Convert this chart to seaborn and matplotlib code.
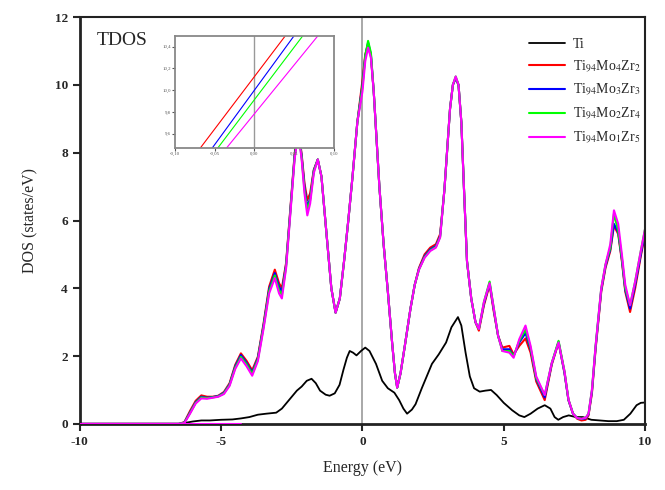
import numpy as np
import pandas as pd
import matplotlib
matplotlib.use('Agg')
import matplotlib.pyplot as plt
import seaborn as sns

# エネルギー軸 (合金TDOS)
energy = [-10.0, -6.5, -6.3, -6.1, -5.9, -5.7, -5.5, -5.3, -5.1, -4.9, -4.7, -4.5, -4.3,
          -4.1, -3.9, -3.7, -3.5, -3.3, -3.1, -2.95, -2.85, -2.7, -2.55, -2.4, -2.27,
          -2.15, -2.05, -1.95, -1.85, -1.72, -1.58, -1.45, -1.27, -1.1, -0.95, -0.8,
          -0.65, -0.5, -0.35, -0.18, 0.0, 0.1, 0.2, 0.3, 0.4, 0.5, 0.6, 0.75, 0.9, 1.05,
          1.15, 1.23, 1.35, 1.5, 1.7, 1.85, 2.0, 2.2, 2.4, 2.6, 2.75, 2.9, 3.0, 3.1, 3.2,
          3.3, 3.4, 3.5, 3.6, 3.7, 3.85, 4.0, 4.12, 4.3, 4.5, 4.65, 4.8, 4.95, 5.2, 5.35,
          5.55, 5.77, 5.95, 6.15, 6.45, 6.7, 6.94, 7.15, 7.29, 7.45, 7.6, 7.75, 7.9, 8.0,
          8.12, 8.25, 8.45, 8.6, 8.77, 8.9, 9.05, 9.18, 9.3, 9.47, 9.65, 9.85, 10.0]

dos_mo4zr2 = [0, 0, 0.05, 0.38, 0.68, 0.84, 0.8, 0.8, 0.83, 0.94, 1.2, 1.74, 2.08,
              1.86, 1.58, 1.98, 2.95, 4.05, 4.55, 4.15, 4.0, 4.75, 6.35, 7.95, 8.75,
              7.95, 7.1, 6.6, 6.8, 7.5, 7.8, 7.3, 5.6, 4.0, 3.28, 3.7,
              4.8, 6.0, 7.3, 8.9, 10.13, 10.9, 11.2, 10.85, 9.8, 8.4, 7.0, 5.3, 3.9, 2.4,
              1.5, 1.07, 1.5, 2.3, 3.4, 4.1, 4.6, 5.0, 5.2, 5.3, 5.6, 6.9, 8.1, 9.3, 10.0,
              10.2, 10.0, 8.9, 6.8, 4.8, 3.7, 3.0, 2.75, 3.5, 4.1, 3.3, 2.6, 2.25, 2.3, 2.05,
              2.3, 2.52, 2.1, 1.25, 0.7, 1.75, 2.4, 1.5, 0.7, 0.3, 0.15, 0.1, 0.12, 0.25,
              0.9, 2.2, 3.9, 4.6, 5.1, 5.85, 5.6, 4.8, 3.9, 3.3, 4.0, 4.95, 5.6]
dos_mo3zr3 = [0, 0, 0.04, 0.34, 0.64, 0.8, 0.77, 0.79, 0.82, 0.92, 1.17, 1.7, 2.03,
              1.8, 1.52, 1.94, 2.9, 3.98, 4.45, 4.05, 3.9, 4.7, 6.3, 7.9, 8.7,
              7.9, 7.0, 6.4, 6.65, 7.48, 7.8, 7.3, 5.6, 4.0, 3.28, 3.7,
              4.8, 6.0, 7.3, 8.9, 10.0, 10.85, 11.25, 10.9, 9.8, 8.4, 7.0, 5.3, 3.9, 2.4,
              1.5, 1.07, 1.5, 2.3, 3.4, 4.1, 4.57, 4.95, 5.15, 5.25, 5.55, 6.9, 8.1, 9.3, 10.0,
              10.2, 10.0, 8.9, 6.8, 4.8, 3.7, 3.0, 2.8, 3.55, 4.15, 3.35, 2.6, 2.2, 2.2, 2.0,
              2.4, 2.68, 2.2, 1.32, 0.78, 1.78, 2.42, 1.5, 0.7, 0.3, 0.17, 0.14, 0.16, 0.28,
              0.95, 2.25, 3.95, 4.65, 5.15, 5.9, 5.65, 4.85, 3.95, 3.4, 4.1, 5.0, 5.65]
dos_mo2zr4 = [0, 0, 0.03, 0.32, 0.62, 0.78, 0.76, 0.78, 0.81, 0.9, 1.15, 1.66, 1.98,
              1.76, 1.48, 1.9, 2.85, 3.92, 4.38, 3.95, 3.8, 4.65, 6.25, 7.85, 8.65,
              7.85, 6.9, 6.3, 6.6, 7.45, 7.8, 7.3, 5.6, 4.0, 3.28, 3.7,
              4.8, 6.0, 7.3, 8.9, 9.93, 10.85, 11.3, 10.95, 9.8, 8.4, 7.0, 5.3, 3.9, 2.4,
              1.5, 1.07, 1.5, 2.3, 3.4, 4.1, 4.55, 4.92, 5.12, 5.22, 5.52, 6.9, 8.1, 9.3, 10.0,
              10.25, 10.0, 8.9, 6.8, 4.8, 3.7, 3.0, 2.8, 3.6, 4.2, 3.4, 2.6, 2.15, 2.15, 2.0,
              2.45, 2.78, 2.25, 1.35, 0.85, 1.8, 2.45, 1.55, 0.72, 0.3, 0.17, 0.15, 0.18, 0.3,
              1.0, 2.3, 4.0, 4.7, 5.2, 6.2, 5.7, 4.9, 4.0, 3.5, 4.2, 5.1, 5.75]
dos_mo1zr5 = [0, 0, 0.02, 0.3, 0.6, 0.75, 0.74, 0.77, 0.8, 0.88, 1.12, 1.62, 1.93,
              1.7, 1.42, 1.85, 2.8, 3.85, 4.3, 3.85, 3.7, 4.6, 6.2, 7.8, 8.6,
              7.8, 6.8, 6.15, 6.5, 7.4, 7.8, 7.3, 5.6, 4.0, 3.28, 3.7,
              4.8, 6.0, 7.3, 8.9, 9.8, 10.7, 11.1, 10.8, 9.8, 8.4, 7.0, 5.3, 3.9, 2.4,
              1.5, 1.07, 1.5, 2.3, 3.4, 4.1, 4.55, 4.9, 5.1, 5.2, 5.5, 6.9, 8.1, 9.3, 10.0,
              10.25, 10.0, 8.9, 6.8, 4.8, 3.7, 3.0, 2.8, 3.6, 4.15, 3.4, 2.6, 2.15, 2.1, 1.95,
              2.5, 2.9, 2.3, 1.4, 0.85, 1.8, 2.4, 1.55, 0.72, 0.3, 0.17, 0.15, 0.18, 0.3,
              1.0, 2.3, 4.0, 4.7, 5.3, 6.3, 5.9, 5.0, 4.1, 3.5, 4.2, 5.1, 5.75]

# 純Ti
energy_ti = [-6.4, -6.2, -6.0, -5.7, -5.4, -5.0, -4.6, -4.3, -4.0, -3.7, -3.4, -3.05,
             -2.85, -2.68, -2.5, -2.32, -2.15, -1.97, -1.8, -1.65, -1.5, -1.3, -1.16,
             -0.98, -0.81, -0.67, -0.55, -0.45, -0.33, -0.21, -0.05, 0.1, 0.25, 0.48,
             0.7, 0.9, 1.13, 1.3, 1.45, 1.58, 1.75, 1.88, 2.1, 2.3, 2.46, 2.7, 2.96,
             3.15, 3.38, 3.5, 3.65, 3.8, 3.95, 4.15, 4.35, 4.55, 4.75, 5.0, 5.3, 5.55,
             5.73, 5.95, 6.2, 6.45, 6.65, 6.8, 6.93, 7.1, 7.3, 7.55, 7.8, 8.1, 8.4, 8.7,
             9.0, 9.25, 9.48, 9.7, 9.85, 10.0]
dos_ti = [0.0, 0.04, 0.07, 0.1, 0.1, 0.12, 0.13, 0.16, 0.2, 0.27, 0.3, 0.33,
          0.45, 0.62, 0.8, 0.98, 1.1, 1.27, 1.33, 1.2, 0.98, 0.86, 0.83,
          0.9, 1.15, 1.6, 1.95, 2.15, 2.1, 2.02, 2.15, 2.25, 2.15, 1.77,
          1.27, 1.05, 0.92, 0.7, 0.45, 0.3, 0.42, 0.58, 1.05, 1.45, 1.77, 2.05, 2.4,
          2.85, 3.15, 2.9, 2.1, 1.4, 1.05, 0.95, 0.98, 1.0, 0.85, 0.62, 0.4, 0.25,
          0.2, 0.3, 0.45, 0.55, 0.45, 0.2, 0.12, 0.2, 0.25, 0.2, 0.2, 0.12, 0.1, 0.08,
          0.08, 0.12, 0.3, 0.55, 0.62, 0.63]

# 拡大図 (E_F付近) : 各線の両端
inset_e = {'red': [-0.068, 0.039], 'blue': [-0.053, 0.050],
           'lime': [-0.046, 0.061], 'magenta': [-0.035, 0.080]}
inset_dos = [9.47, 10.5]

labels = ['Ti', r'Ti$_{94}$Mo$_4$Zr$_2$', r'Ti$_{94}$Mo$_3$Zr$_3$',
          r'Ti$_{94}$Mo$_2$Zr$_4$', r'Ti$_{94}$Mo$_1$Zr$_5$']
colors = ['black', 'red', 'blue', 'lime', 'magenta']

sns.set_style('ticks')
plt.rcParams['font.family'] = ['Liberation Serif', 'DejaVu Serif']
plt.rcParams['mathtext.fontset'] = 'stix'
plt.rcParams['axes.unicode_minus'] = False

fig = plt.figure(figsize=(6.65, 4.9), dpi=100)
ax = fig.add_axes([0.120, 0.135, 0.850, 0.830])

ax.axvline(0, color='#999999', lw=1.2, zorder=0)

sns.lineplot(x=energy_ti, y=dos_ti, ax=ax, color='black', lw=1.3, label=labels[0],
             estimator=None, sort=False)
alloys = [dos_mo4zr2, dos_mo3zr3, dos_mo2zr4, dos_mo1zr5]
for dos, c, lab in zip(alloys, colors[1:], labels[1:]):
    sns.lineplot(x=energy, y=dos, ax=ax, color=c, lw=1.5, label=lab,
                 estimator=None, sort=False)
# 下端のマゼンタ線
ax.plot([-10, -4.3], [0, 0], color='magenta', lw=1.5, zorder=3)

ax.set_xlim(-10, 10)
ax.set_ylim(0, 12)
ax.set_xticks([-10, -5, 0, 5, 10])
ax.set_yticks(range(0, 13, 2))
ax.tick_params(direction='out', length=5, width=1.5, labelsize=9.5)
for t in ax.get_xticklabels() + ax.get_yticklabels():
    t.set_fontweight('bold')
for s in ax.spines.values():
    s.set_visible(True)
    s.set_linewidth(1.5)
    s.set_color('#222222')
ax.spines['left'].set_linewidth(2)
ax.spines['bottom'].set_linewidth(2)
ax.set_xlabel('Energy (eV)', fontsize=11.5, labelpad=9)
ax.set_ylabel('DOS (states/eV)', fontsize=11.5, labelpad=12)
ax.text(-9.4, 11.3, 'TDOS', fontsize=14, va='center', ha='left')

leg = ax.legend(loc='upper left', bbox_to_anchor=(0.772, 0.98), frameon=False,
                fontsize=10, handlelength=2.6, handletextpad=0.6, labelspacing=0.55)

# 拡大図
axi = fig.add_axes([0.263, 0.698, 0.239, 0.229])
axi.axvline(0, color='#999999', lw=1.0, zorder=0)
for c in ['red', 'blue', 'lime', 'magenta']:
    sns.lineplot(x=inset_e[c], y=inset_dos, ax=axi, color=c, lw=0.8,
                 estimator=None, sort=False)
axi.set_xlim(-0.10, 0.10)
axi.set_ylim(9.47, 10.5)
axi.set_xticks([-0.10, -0.05, 0.0, 0.05, 0.10])
axi.set_xticklabels(['-0,10', '-0,05', '0,00', '0,05', '0,10'])
axi.set_yticks([9.6, 9.8, 10.0, 10.2, 10.4])
axi.set_yticklabels(['9,6', '9,8', '10,0', '10,2', '10,4'])
axi.tick_params(direction='out', length=2, width=0.8, labelsize=3.5, pad=1,
                colors='#555555')
for s in axi.spines.values():
    s.set_visible(True)
    s.set_linewidth(1.3)
    s.set_color('#888888')

fig.savefig('out.png', dpi=100)
